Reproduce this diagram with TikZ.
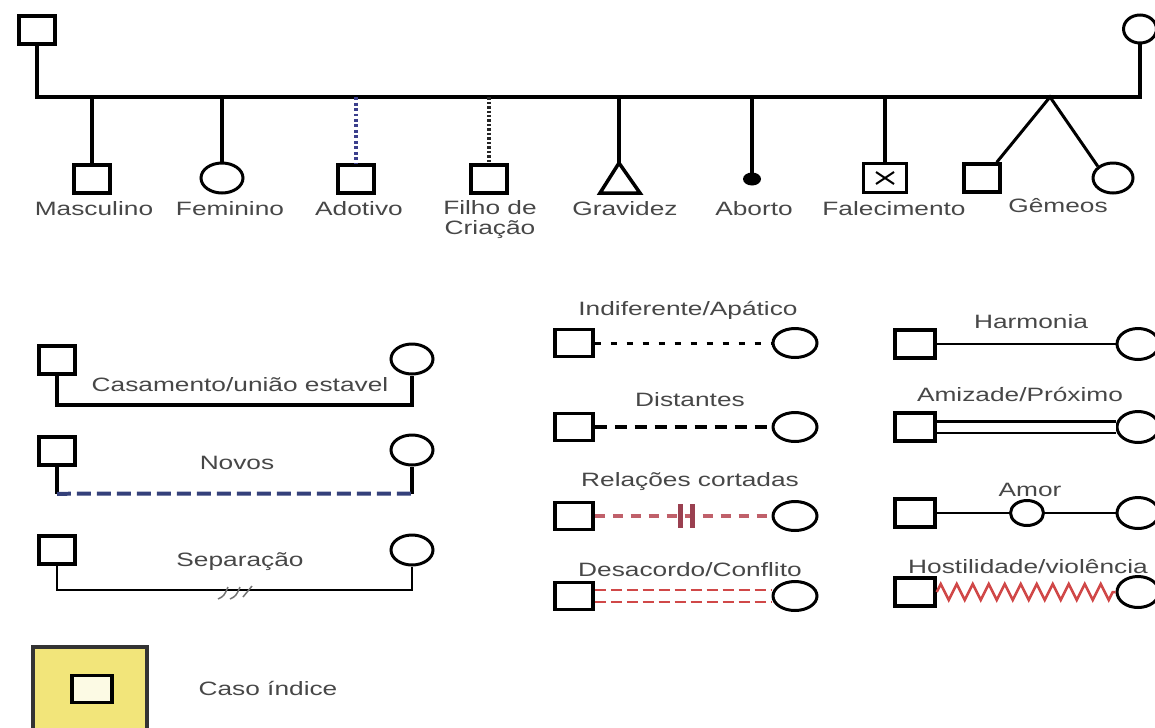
\documentclass[tikz,border=0pt]{standalone}
\usepackage{fontspec}
\setmainfont{Liberation Sans}[FakeStretch=1.36]
\usetikzlibrary{shapes.geometric,decorations.pathmorphing,calc}
\definecolor{txt}{HTML}{474747}
\definecolor{adblue}{HTML}{3B3F8C}
\definecolor{novblue}{HTML}{34407A}
\definecolor{redc}{HTML}{D04848}
\definecolor{cutred}{HTML}{C0606A}
\definecolor{barred}{HTML}{9A4050}
\definecolor{yel}{HTML}{F2E57A}
\begin{document}
\begin{tikzpicture}[x=0.02cm,y=-0.02cm,
  lbl/.style={text=txt, font=\fontsize{11}{12}\selectfont, inner sep=0pt},
  sq/.style={draw, line width=0.07cm, minimum width=0.72cm, minimum height=0.56cm, inner sep=0pt},
  ci/.style={draw, ellipse, line width=0.06cm, minimum width=0.84cm, minimum height=0.6cm, inner sep=0pt},
  msq/.style={sq, minimum width=0.76cm, minimum height=0.54cm},
  mci/.style={ci, minimum width=0.88cm, minimum height=0.58cm},
  rsq/.style={sq, minimum width=0.8cm, minimum height=0.56cm},
  rci/.style={ci, minimum width=0.84cm, minimum height=0.62cm},
  ln/.style={line width=0.08cm},
  thinln/.style={line width=0.05cm},
  adotline/.style={adblue, line width=0.07cm, dash pattern=on 0.06cm off 0.05cm},
  filline/.style={black!85, line width=0.07cm, dash pattern=on 0.05cm off 0.04cm},
  novline/.style={novblue, line width=0.08cm, dash pattern=on 0.28cm off 0.12cm},
  indline/.style={line width=0.06cm, dash pattern=on 0.12cm off 0.2cm},
  disline/.style={line width=0.07cm, dash pattern=on 0.24cm off 0.16cm},
  cutline/.style={cutred, line width=0.07cm, dash pattern=on 0.2cm off 0.16cm},
  cutbar/.style={barred, line width=0.1cm},
  conline/.style={redc, line width=0.05cm, dash pattern=on 0.22cm off 0.1cm},
  hostline/.style={redc, line width=0.05cm, decorate, decoration={zigzag, segment length=0.32cm, amplitude=0.16cm}},
]
\useasboundingbox (0,0) rectangle (1155,727);

% ---------- top genogram ----------
\coordinate (bar) at (0,97);
\node[sq] (fa) at (37,30) {};
\node[ci, minimum width=0.66cm, minimum height=0.56cm] (mo) at (1140,29) {};
\draw[ln] (fa.south) |- (mo.south |- bar) -- (mo.south);

\node[sq] (masc) at (92,179) {};
\node[ci] (fem) at (222,178) {};
\node[sq] (ado) at (356,179) {};
\node[sq] (fil) at (489,179) {};
\coordinate (grav) at (619,163);
\draw[line width=0.07cm, line join=miter] (600,193) -- (grav) -- (640,193) -- cycle;
\node[ellipse, fill, minimum width=0.36cm, minimum height=0.26cm, inner sep=0pt] (abo) at (752,179) {};
\node[sq, minimum width=0.86cm, minimum height=0.58cm] (fal) at (885,178) {};
\draw[line width=0.04cm] ([shift={(-9,-6)}]fal.center) -- ([shift={(9,6)}]fal.center);
\draw[line width=0.04cm] ([shift={(-9,6)}]fal.center) -- ([shift={(9,-6)}]fal.center);
\node[sq] (gsq) at (982,178) {};
\node[ci, minimum width=0.8cm] (gci) at (1113,178) {};
\coordinate (gap) at (1050,97);

\draw[ln] (masc.north |- bar) -- (masc.north);
\draw[ln] (fem.north |- bar) -- (fem.north);
\draw[adotline] (ado.north |- bar) -- (ado.north);
\draw[filline] (fil.north |- bar) -- (fil.north);
\draw[ln] (grav |- bar) -- (grav);
\draw[ln] (abo.center |- bar) -- (abo.center);
\draw[ln] (fal.north |- bar) -- (fal.north);
\draw[line width=0.06cm] ([shift={(-5,0)}]gsq.north east) -- (gap) -- (gci.north west);

\node[lbl] (lmasc) at (94,209) {Masculino};
\node[lbl] (lfem) at (230,209) {Feminino};
\node[lbl] (lado) at (359,209) {Adotivo};
\node[lbl] (lfil) at (490,208) {Filho de};
\node[lbl] (lfil2) at (490,230) {Criação};
\node[lbl] (lgrav) at (625,209) {Gravidez};
\node[lbl] (labo) at (754,209) {Aborto};
\node[lbl] (lfal) at (894,209) {Falecimento};
\node[lbl] (lgem) at (1058,206) {Gêmeos};

% ---------- left relations ----------
\node[sq] (ca1) at (57,360) {};
\node[ci] (ca2) at (412,359) {};
\draw[ln] (ca1.south) -- ++(0,29) -| (ca2.south);
\node[lbl] (lca) at (240,385) {Casamento/união estavel};

\node[sq] (n1) at (57,451) {};
\node[ci] (n2) at (412,450) {};
\draw[ln] (n1.south) -- ++(0,27) coordinate (n1b);
\draw[ln] (n2.south) -- ++(0,27) coordinate (n2b);
\draw[novline] (n1b) -- (n2b);
\node[lbl] (lno) at (237,463) {Novos};

\node[sq] (s1) at (57,550) {};
\node[ci] (s2) at (412,550) {};
\draw[thinln] (s1.south) -- ++(0,24) -| (s2.south);
\node[lbl] (lse) at (240,562) {Separação};
\draw[black!55, line width=0.03cm] (218,599) .. controls (224,596) .. (228,587);
\draw[black!55, line width=0.03cm] (230,599) .. controls (236,596) .. (240,587);
\draw[black!55, line width=0.03cm] (243,597) -- (252,586);

% ---------- middle relations ----------
\node[lbl] (lind) at (688,310) {Indiferente/Apático};
\node[msq] (i1) at (574,343) {};
\node[mci] (i2) at (795,343) {};
\draw[indline] (i1.east) -- (i2.west);

\node[lbl] (ldis) at (690,400) {Distantes};
\node[msq] (d1) at (574,427) {};
\node[mci] (d2) at (795,427) {};
\draw[disline] (d1.east) -- (d2.west);

\node[lbl] (lrc) at (690,482) {Relações cortadas};
\node[msq] (r1) at (574,516) {};
\node[mci] (r2) at (795,516) {};
\draw[cutline] (r1.east) -- (r2.west);
\coordinate (rcm) at (686,516);
\draw[cutbar] ([shift={(-6,-12)}]rcm) -- ([shift={(-6,12)}]rcm);
\draw[cutbar] ([shift={(6,-12)}]rcm) -- ([shift={(6,12)}]rcm);

\node[lbl] (lcon) at (690,570) {Desacordo/Conflito};
\node[msq] (k1) at (574,596) {};
\node[mci] (k2) at (795,596) {};
\draw[conline] ([shift={(0,-6)}]k1.east) -- ([shift={(0,-6)}]k2.west);
\draw[conline] ([shift={(0,6)}]k1.east) -- ([shift={(0,6)}]k2.west);

% ---------- right relations ----------
\node[lbl] (lhar) at (1031,322) {Harmonia};
\node[rsq] (h1) at (915,344) {};
\node[rci] (h2) at (1138,344) {};
\draw[thinln] (h1.east) -- (h2.west);

\node[lbl] (lami) at (1020,394) {Amizade/Próximo};
\node[rsq] (a1) at (915,427) {};
\node[rci] (a2) at (1138,427) {};
\draw[line width=0.05cm, double distance=0.18cm] (a1.east) -- (a2.west);

\node[lbl] (lamo) at (1030,490) {Amor};
\node[rsq] (m1) at (915,513) {};
\node[ci, minimum width=0.66cm, minimum height=0.5cm] (mm) at (1027,513) {};
\node[rci] (m2) at (1138,513) {};
\draw[thinln] (m1.east) -- (mm.west);
\draw[thinln] (mm.east) -- (m2.west);

\node[lbl] (lhos) at (1028,567) {Hostilidade/violência};
\node[rsq] (v1) at (915,592) {};
\node[rci] (v2) at (1138,592) {};
\draw[hostline] (v1.east) -- (v2.west);

% ---------- caso indice ----------
\node[draw=black!80, fill=yel, line width=0.08cm, minimum width=2.28cm, minimum height=1.9cm, inner sep=0pt] (cbox) at (90,694) {};
\node[sq, fill=yel!20, minimum width=0.8cm, minimum height=0.54cm] (cis) at (92,689) {};
\node[lbl] (lcaso) at (268,688) {Caso índice};
\end{tikzpicture}
\end{document}
